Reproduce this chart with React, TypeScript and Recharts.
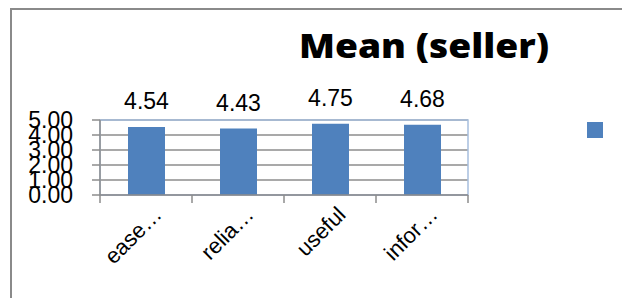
import React from "react";
import {
  BarChart,
  Bar,
  XAxis,
  YAxis,
  CartesianGrid,
  LabelList,
  Legend,
  ReferenceArea,
} from "recharts";

const categories = ["ease…", "relia…", "useful", "infor…"];
const meanValues = [4.54, 4.43, 4.75, 4.68];
const yTicks = [0, 1, 2, 3, 4, 5];
const title = "Mean (seller)";

const data = categories.map((c, i) => ({ name: c, mean: meanValues[i] }));

const FONT = "'Liberation Sans', Arial, sans-serif";
const GRID = "#8C8C8C";
const BLUE = "#4F81BD";

const XTick = (props: any) => {
  const { x, y, payload, index, visibleTicksCount } = props;
  const half = payload && payload.offset ? payload.offset : 0;
  const ax = x + 17;
  const ay = y + 21;
  const isLast = index === visibleTicksCount - 1;
  return (
    <g>
      <line x1={x - half} x2={x - half} y1={y} y2={y + 8} stroke={GRID} strokeWidth={1.5} />
      {isLast && (
        <line x1={x + half} x2={x + half} y1={y} y2={y + 8} stroke={GRID} strokeWidth={1.5} />
      )}
      <text
        x={ax}
        y={ay}
        transform={`rotate(-45, ${ax}, ${ay})`}
        textAnchor="end"
        fontFamily={FONT}
        fontSize={22}
        fill="#000"
      >
        {payload.value}
      </text>
    </g>
  );
};

export default function App() {
  return (
    <div
      style={{
        position: "fixed",
        left: 0,
        top: 0,
        width: 622,
        height: 298,
        overflow: "hidden",
        background: "#fff",
      }}
    >
      <div
        style={{
          position: "absolute",
          left: 10,
          top: 8,
          width: 700,
          height: 400,
          border: "2px solid #8A8A8A",
          boxSizing: "border-box",
        }}
      />
      <div style={{ position: "absolute", left: 0, top: 0 }}>
        <BarChart
          width={622}
          height={298}
          data={data}
          margin={{ top: 120, right: 154, bottom: 43, left: 40 }}
          barCategoryGap="30%"
        >
          <CartesianGrid
            vertical={false}
            stroke={GRID}
            strokeWidth={1.5}
            strokeDasharray=""
          />
          <ReferenceArea
            y1={0}
            y2={5}
            fill="none"
            stroke="#A7BFDE"
            strokeWidth={1.5}
            ifOverflow="visible"
          />
          <XAxis
            dataKey="name"
            height={60}
            interval={0}
            tickSize={0}
            tickMargin={0}
            axisLine={{ stroke: GRID, strokeWidth: 1.5 }}
            tickLine={false}
            tick={<XTick />}
          />
          <YAxis
            domain={[0, 5]}
            ticks={yTicks}
            interval={0}
            width={60}
            tickSize={8}
            tickMargin={19}
            tickFormatter={(v: number) => v.toFixed(2)}
            axisLine={{ stroke: GRID, strokeWidth: 1.5 }}
            tickLine={{ stroke: GRID, strokeWidth: 1.5 }}
            tick={{ fill: "#000", fontSize: 23, fontFamily: FONT }}
          />
          <Legend
            layout="horizontal"
            verticalAlign="middle"
            align="center"
            wrapperStyle={{ left: 587, top: 122, width: 16, height: 16 }}
            content={() => (
              <div style={{ width: 16, height: 16, background: BLUE }} />
            )}
          />
          <Bar
            dataKey="mean"
            name=" "
            fill={BLUE}
            barSize={37}
            isAnimationActive={false}
          >
            <LabelList
              dataKey="mean"
              position="top"
              offset={18}
              formatter={(v: any) => Number(v).toFixed(2)}
              style={{ fill: "#000", fontSize: 23, fontFamily: FONT }}
            />
          </Bar>
        </BarChart>
      </div>
      <svg
        width={622}
        height={298}
        style={{ position: "absolute", left: 0, top: 0, pointerEvents: "none" }}
      >
        <text
          x={299}
          y={58}
          textLength={250}
          lengthAdjust="spacingAndGlyphs"
          fontFamily="'Open Sans', sans-serif"
          fontWeight={800}
          fontSize={33}
          fill="#000"
        >
          {title}
        </text>
      </svg>
    </div>
  );
}
